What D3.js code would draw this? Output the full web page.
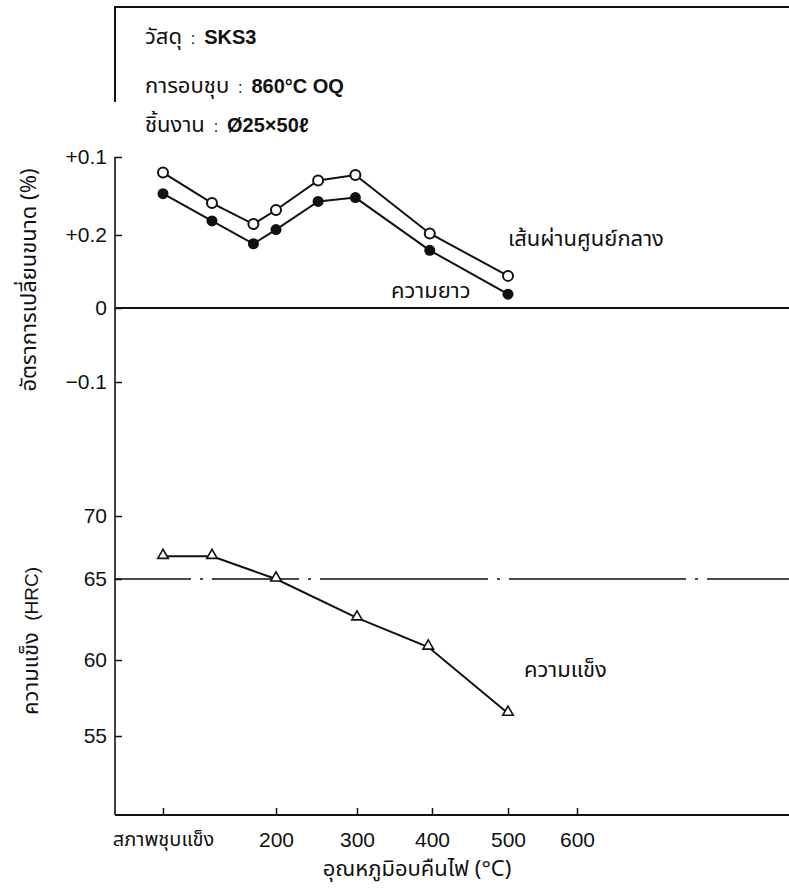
<!DOCTYPE html>
<html>
<head>
<meta charset="utf-8">
<script src="https://cdn.jsdelivr.net/npm/d3@7"></script>
<style>
  body { margin: 0; background: #fff; }
  text { font-family: "Liberation Sans", Arial, "Noto Sans Thai", sans-serif; fill: #111; }
  .thai { font-family: "Noto Sans Thai", "Liberation Sans", sans-serif; }
</style>
</head>
<body>
<div id="chart"></div>
<script>
// constants for page set up
const FRAME_WIDTH = 789;
const FRAME_HEIGHT = 892;
const AXIS_X = 115;      // left axis position
const AXIS_BOTTOM = 815; // bottom axis position
const AXIS_TOP = 157;

// temperatures (quenched state placed at 50 on the axis)
const TEMPS_DIM = [50, 115, 170, 200, 252, 298, 397, 500];
const DIAMETER = [0.180, 0.141, 0.114, 0.132, 0.170, 0.177, 0.102, 0.044];
const LENGTH = [0.153, 0.118, 0.088, 0.107, 0.143, 0.148, 0.079, 0.019];

const TEMPS_HRC = [50, 115, 200, 300, 395, 500];
const HARDNESS = [66.8, 66.8, 65.0, 62.6, 60.8, 56.5];
const HRC_REF = 65;

// tick values and labels
const X_TICKS = [50, 200, 300, 400, 500, 600];
const X_TICK_LABELS = ["สภาพชุบแข็ง", "200", "300", "400", "500", "600"];
const DIM_TICKS = [0.2, 0.1, 0, -0.1];
const DIM_TICK_LABELS = ["+0.1", "+0.2", "0", "\u22120.1"];
const HRC_TICKS = [70, 65, 60, 55];

const FRAME = d3.select("#chart")
  .append("svg")
  .attr("width", FRAME_WIDTH)
  .attr("height", FRAME_HEIGHT);

// scales (the printed axes are not quite even, so piecewise)
const X_SCALE = d3.scaleLinear()
  .domain([50, 200, 300, 400, 500, 600])
  .range([163, 276, 357, 432, 508, 577]);

const Y_DIM = d3.scaleLinear()
  .domain([-0.1, 0, 0.1, 0.2])
  .range([382, 308, 235, 157]);

const Y_HRC = d3.scaleLinear()
  .domain([55, 60, 65, 70])
  .range([736, 660, 579, 516]);

// info box at the top
FRAME.append("path")
  .attr("d", "M" + AXIS_X + ",102 V7 H" + FRAME_WIDTH)
  .attr("fill", "none")
  .attr("stroke", "#111")
  .attr("stroke-width", 2);

const INFO = [
  ["วัสดุ", "SKS3", 44],
  ["การอบชุบ", "860°C OQ", 93],
  ["ชิ้นงาน", "\u00D825\u00D750\u2113", 132]
];
INFO.forEach((row) => {
  const t = FRAME.append("text")
    .attr("x", 145)
    .attr("y", row[2])
    .attr("font-size", 22);
  t.append("tspan").attr("class", "thai").text(row[0]);
  t.append("tspan").attr("font-size", 16).text("\u00A0\u00A0:\u00A0\u00A0");
  t.append("tspan").attr("font-weight", "bold").attr("font-size", 20).text(row[1]);
});

// axis lines
FRAME.append("line")
  .attr("x1", AXIS_X).attr("x2", AXIS_X)
  .attr("y1", AXIS_TOP).attr("y2", AXIS_BOTTOM)
  .attr("stroke", "#111").attr("stroke-width", 1.6);

FRAME.append("line")
  .attr("x1", AXIS_X).attr("x2", FRAME_WIDTH)
  .attr("y1", AXIS_BOTTOM).attr("y2", AXIS_BOTTOM)
  .attr("stroke", "#111").attr("stroke-width", 1.8);

// zero line of the dimension chart
FRAME.append("line")
  .attr("x1", AXIS_X).attr("x2", FRAME_WIDTH)
  .attr("y1", Y_DIM(0)).attr("y2", Y_DIM(0))
  .attr("stroke", "#111").attr("stroke-width", 2);

// 65 HRC reference (dash-dot, irregular like the print)
FRAME.append("line")
  .attr("x1", AXIS_X).attr("x2", FRAME_WIDTH)
  .attr("y1", Y_HRC(HRC_REF)).attr("y2", Y_HRC(HRC_REF))
  .attr("stroke", "#111").attr("stroke-width", 1.5)
  .attr("stroke-dasharray", "76,9,3,9,87,9,3,9,168,9,3,9,177,9,3,9,300");

// y axis (dimension)
const dimAxis = FRAME.append("g")
  .attr("transform", "translate(" + AXIS_X + ",0)")
  .call(d3.axisLeft(Y_DIM).tickValues(DIM_TICKS).tickSize(-7).tickPadding(8)
    .tickFormat((d, i) => DIM_TICK_LABELS[i]));

// y axis (hardness)
const hrcAxis = FRAME.append("g")
  .attr("transform", "translate(" + AXIS_X + ",0)")
  .call(d3.axisLeft(Y_HRC).tickValues(HRC_TICKS).tickSize(-7).tickPadding(8));

// x axis
const xAxis = FRAME.append("g")
  .attr("transform", "translate(0," + AXIS_BOTTOM + ")")
  .call(d3.axisBottom(X_SCALE).tickValues(X_TICKS).tickSize(-7).tickPadding(17)
    .tickFormat((d, i) => X_TICK_LABELS[i]));

[dimAxis, hrcAxis, xAxis].forEach((g) => {
  g.select(".domain").remove();
  g.selectAll("line").attr("stroke", "#111").attr("stroke-width", 1.5);
  g.selectAll("text").attr("font-size", 21).attr("fill", "#111");
});
xAxis.selectAll("text").filter((d, i) => i === 0)
  .attr("class", "thai").attr("font-size", 20);

// lines
const dimLine = (vals) => d3.line()
  .x((d, i) => X_SCALE(TEMPS_DIM[i]))
  .y((d) => Y_DIM(d))(vals);

FRAME.append("path")
  .attr("d", dimLine(DIAMETER))
  .attr("fill", "none").attr("stroke", "#111").attr("stroke-width", 2);

FRAME.append("path")
  .attr("d", dimLine(LENGTH))
  .attr("fill", "none").attr("stroke", "#111").attr("stroke-width", 2);

FRAME.append("path")
  .attr("d", d3.line()
    .x((d, i) => X_SCALE(TEMPS_HRC[i]))
    .y((d) => Y_HRC(d))(HARDNESS))
  .attr("fill", "none").attr("stroke", "#111").attr("stroke-width", 2);

// markers
FRAME.selectAll(".dia")
  .data(DIAMETER)
  .enter()
  .append("circle")
  .attr("cx", (d, i) => X_SCALE(TEMPS_DIM[i]))
  .attr("cy", (d) => Y_DIM(d))
  .attr("r", 5)
  .attr("fill", "#fff")
  .attr("stroke", "#111")
  .attr("stroke-width", 2);

FRAME.selectAll(".len")
  .data(LENGTH)
  .enter()
  .append("circle")
  .attr("cx", (d, i) => X_SCALE(TEMPS_DIM[i]))
  .attr("cy", (d) => Y_DIM(d))
  .attr("r", 5.5)
  .attr("fill", "#111");

const tri = d3.symbol().type(d3.symbolTriangle).size(48);
FRAME.selectAll(".hrc")
  .data(HARDNESS)
  .enter()
  .append("path")
  .attr("d", tri)
  .attr("transform", (d, i) => "translate(" + X_SCALE(TEMPS_HRC[i]) + "," + (Y_HRC(d) - 1) + ")")
  .attr("fill", "#fff")
  .attr("stroke", "#111")
  .attr("stroke-width", 1.6);

// series labels
FRAME.append("text").attr("class", "thai")
  .attr("x", 508).attr("y", 246).attr("font-size", 22)
  .text("เส้นผ่านศูนย์กลาง");

FRAME.append("text").attr("class", "thai")
  .attr("x", 391).attr("y", 298).attr("font-size", 22)
  .text("ความยาว");

FRAME.append("text").attr("class", "thai")
  .attr("x", 524).attr("y", 677).attr("font-size", 22)
  .text("ความแข็ง");

// axis titles
FRAME.append("text").attr("class", "thai")
  .attr("transform", "translate(36,280) rotate(-90)")
  .attr("text-anchor", "middle").attr("font-size", 22)
  .text("อัตราการเปลี่ยนขนาด (%)");

const hrcTitle = FRAME.append("text").attr("class", "thai")
  .attr("transform", "translate(38,641) rotate(-90)")
  .attr("text-anchor", "middle").attr("font-size", 22);
hrcTitle.append("tspan").text("ความแข็ง\u00A0\u00A0");
hrcTitle.append("tspan").attr("font-family", "'Liberation Sans', Arial, sans-serif")
  .attr("font-size", 19).text("(HRC)");

FRAME.append("text").attr("class", "thai")
  .attr("x", 417).attr("y", 876)
  .attr("text-anchor", "middle").attr("font-size", 22)
  .text("อุณหภูมิอบคืนไฟ (°C)");
</script>
</body>
</html>
